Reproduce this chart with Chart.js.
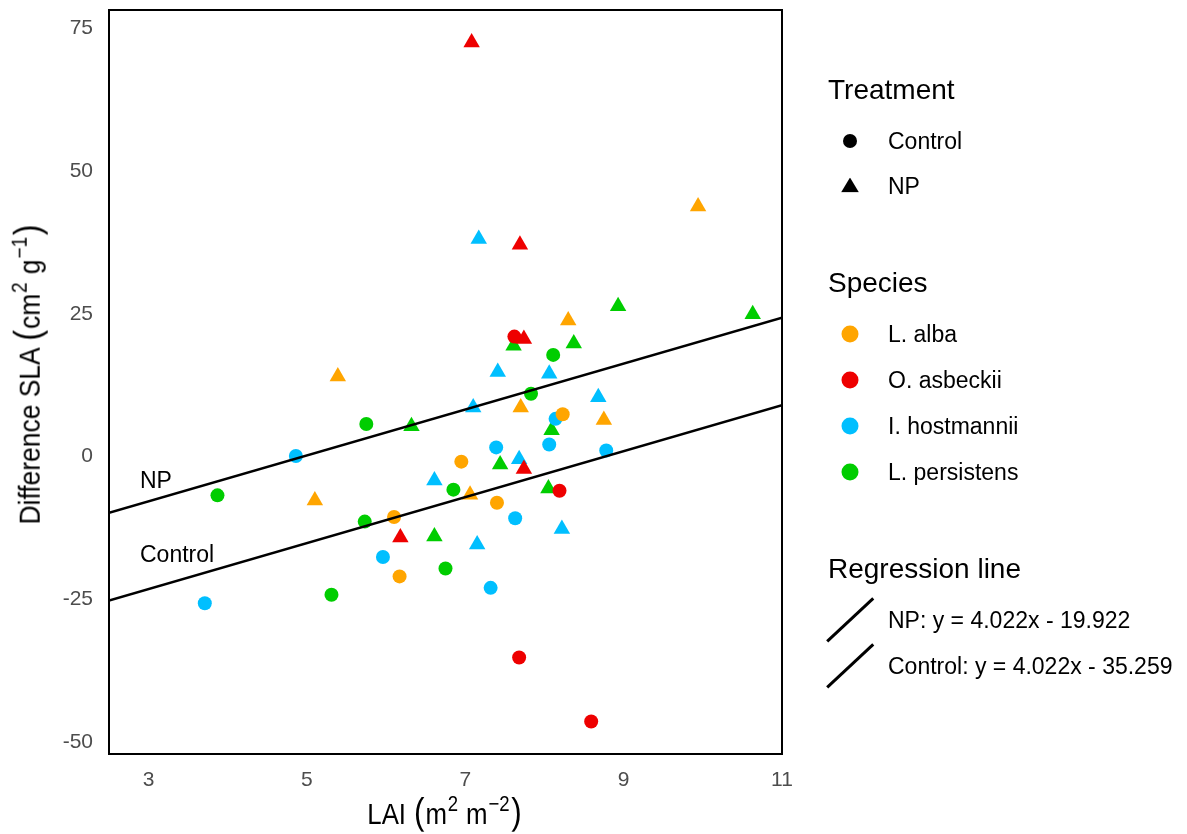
<!DOCTYPE html>
<html>
<head>
<meta charset="utf-8">
<script src="https://cdn.jsdelivr.net/npm/chart.js@4"></script>
<style>
  body { margin: 0; background: #fff; font-family: "Liberation Sans", Arial, sans-serif; }
  #wrap { position: relative; width: 1187px; height: 834px; }
  .t { position: absolute; white-space: nowrap; line-height: 1; transform: translateY(-50%); color: #000; }
  .h { font-size: 28px; }
  .i { font-size: 23px; }
  .dot { position: absolute; border-radius: 50%; transform: translate(-50%, -50%); }
  .tri { position: absolute; transform: translate(-50%, -50%); clip-path: polygon(50% 0, 100% 100%, 0 100%); background: #000; }
  .slash { position: absolute; height: 2.5px; background: #000; transform-origin: 0 50%; }
  .axt { position: absolute; white-space: nowrap; line-height: 1; font-size: 30px; color: #000; }
  .axt sup { font-size: 0.72em; line-height: 0; vertical-align: 0.6em; margin: 0 1px; }
  .axt .p { font-size: 1.22em; margin: 0 1px; }
</style>
</head>
<body>
<div id="wrap">
  <canvas id="myChart" width="1187" height="834"></canvas>
  <div id="legend"></div>
  <div class="t i" style="left:140px;top:480px">NP</div>
  <div class="t i" style="left:140px;top:554px">Control</div>
  <div class="axt" style="left:445px;top:812px;transform:translate(-50%,-50%) scaleX(0.86)">LAI <span class="p">(</span>m<sup>2</sup> m<sup>&minus;2</sup><span class="p">)</span></div>
  <div class="axt" style="left:28px;top:374px;transform:translate(-50%,-50%) rotate(-90deg) scaleX(0.88)">Difference SLA <span class="p">(</span>cm<sup>2</sup> g<sup>&minus;1</sup><span class="p">)</span></div>
</div>
<script>
const xTicks = [3, 5, 7, 9, 11];
const yTicks = [-50, -25, 0, 25, 50, 75];
const xRange = [2.5, 11];
const yRange = [-52.1, 78.2];

const speciesNames = ["L. alba", "O. asbeckii", "I. hostmannii", "L. persistens"];
const speciesColors = ["#FFA500", "#EE0000", "#00BFFF", "#00CD00"];
const treatments = ["Control", "NP"];

// [LAI, difference SLA] per species and treatment
const albaControl = [[6.95, -0.9], [6.10, -10.6], [6.17, -21.0], [7.40, -8.1], [8.23, 7.4]];
const albaNP = [[5.39, 14.0], [5.10, -7.7], [7.06, -6.7], [7.70, 8.6], [8.30, 23.8], [8.75, 6.4], [9.94, 43.8]];
const asbeckiiControl = [[7.62, 21.0], [8.19, -6.0], [7.68, -35.2], [8.59, -46.4]];
const asbeckiiNP = [[7.08, 72.5], [7.69, 37.1], [7.74, 20.6], [6.18, -14.2], [7.74, -2.2]];
const hostmanniiControl = [[4.86, 0.1], [5.96, -17.6], [3.71, -25.7], [8.14, 6.6], [7.39, 1.6], [8.06, 2.1], [8.78, 1.05], [7.63, -10.8], [7.32, -23.0]];
const hostmanniiNP = [[7.17, 38.1], [7.41, 14.8], [8.06, 14.5], [7.10, 8.6], [8.68, 10.4], [7.68, -0.5], [6.61, -4.2], [8.22, -12.7], [7.15, -15.4]];
const persistensControl = [[5.75, 5.7], [3.87, -6.8], [6.85, -5.8], [5.73, -11.4], [6.75, -19.6], [5.31, -24.2], [8.11, 17.8], [7.83, 11.0]];
const persistensNP = [[6.32, 5.3], [6.61, -14.0], [7.44, -1.4], [8.05, -5.6], [8.09, 4.6], [8.93, 26.3], [10.63, 24.9], [7.61, 19.4], [8.37, 19.8]];

// regression lines (same slope)
const lineNames = ["NP", "Control"];
const lineSlopes = [4.022, 4.022];
const lineIntercepts = [-19.922, -35.259];

const groups = [
  [albaControl, albaNP],
  [asbeckiiControl, asbeckiiNP],
  [hostmanniiControl, hostmanniiNP],
  [persistensControl, persistensNP],
];

let datasets = [];
for (let i = 0; i < lineNames.length; i++) {
  datasets.push({
    type: "line",
    label: lineNames[i],
    data: xRange.map((x) => ({ x: x, y: lineSlopes[i] * x + lineIntercepts[i] })),
    borderColor: "#000",
    borderWidth: 2.5,
    pointRadius: 0,
    order: 0,
  });
}
for (let s = 0; s < groups.length; s++) {
  for (let t = 0; t < 2; t++) {
    datasets.push({
      label: speciesNames[s] + " " + treatments[t],
      data: groups[s][t].map((p) => ({ x: p[0], y: p[1] })),
      backgroundColor: speciesColors[s],
      borderWidth: 0,
      pointStyle: t == 0 ? "circle" : "triangle",
      pointRadius: t == 0 ? 7 : 9.5,
      order: 1,
    });
  }
}

const framePlugin = {
  id: "frame",
  afterDraw(chart) {
    const { ctx, chartArea: a } = chart;
    ctx.save();
    ctx.strokeStyle = "#000";
    ctx.lineWidth = 2;
    ctx.strokeRect(a.left, a.top, a.right - a.left, a.bottom - a.top);
    ctx.restore();
  },
};

const tickFont = { family: "Liberation Sans", size: 21 };

new Chart(document.getElementById("myChart"), {
  type: "scatter",
  data: { datasets: datasets },
  options: {
    responsive: false,
    animation: false,
    layout: { padding: { left: 0, top: 10, right: 405, bottom: 0 } },
    plugins: { legend: { display: false }, tooltip: { enabled: false } },
    scales: {
      x: {
        type: "linear",
        min: xRange[0],
        max: xRange[1],
        afterBuildTicks: (s) => { s.ticks = xTicks.map((v) => ({ value: v })); },
        afterFit: (s) => { s.height = 80; s.paddingLeft = 0; s.paddingRight = 0; },
        grid: { display: false, drawTicks: false },
        border: { display: false },
        ticks: { color: "#4D4D4D", font: tickFont, padding: 14 },
      },
      y: {
        min: yRange[0],
        max: yRange[1],
        afterBuildTicks: (s) => { s.ticks = yTicks.map((v) => ({ value: v })); },
        afterFit: (s) => { s.width = 109; s.paddingTop = 0; s.paddingBottom = 0; },
        grid: { display: false, drawTicks: false },
        border: { display: false },
        ticks: { color: "#4D4D4D", font: tickFont, padding: 16 },
      },
    },
  },
  plugins: [framePlugin],
});

// legend on the right
let html = "";
html += `<div class="t h" style="left:828px;top:90px">Treatment</div>`;
html += `<div class="dot" style="left:850px;top:141px;width:14px;height:14px;background:#000"></div>`;
html += `<div class="t i" style="left:888px;top:141px">${treatments[0]}</div>`;
html += `<div class="tri" style="left:850px;top:185px;width:18px;height:15px"></div>`;
html += `<div class="t i" style="left:888px;top:186px">${treatments[1]}</div>`;
html += `<div class="t h" style="left:828px;top:283px">Species</div>`;
for (let i = 0; i < speciesNames.length; i++) {
  let y = 334 + i * 46;
  html += `<div class="dot" style="left:850px;top:${y}px;width:17px;height:17px;background:${speciesColors[i]}"></div>`;
  html += `<div class="t i" style="left:888px;top:${y}px">${speciesNames[i]}</div>`;
}
html += `<div class="t h" style="left:828px;top:569px">Regression line</div>`;
for (let i = 0; i < lineNames.length; i++) {
  let y = 620 + i * 46;
  let sign = lineIntercepts[i] < 0 ? "-" : "+";
  html += `<div class="slash" style="left:827px;top:${y + 20}px;width:63px;transform:rotate(-43deg)"></div>`;
  html += `<div class="t i" style="left:888px;top:${y}px">${lineNames[i]}: y = ${lineSlopes[i].toFixed(3)}x ${sign} ${Math.abs(lineIntercepts[i]).toFixed(3)}</div>`;
}
document.getElementById("legend").innerHTML = html;
</script>
</body>
</html>
